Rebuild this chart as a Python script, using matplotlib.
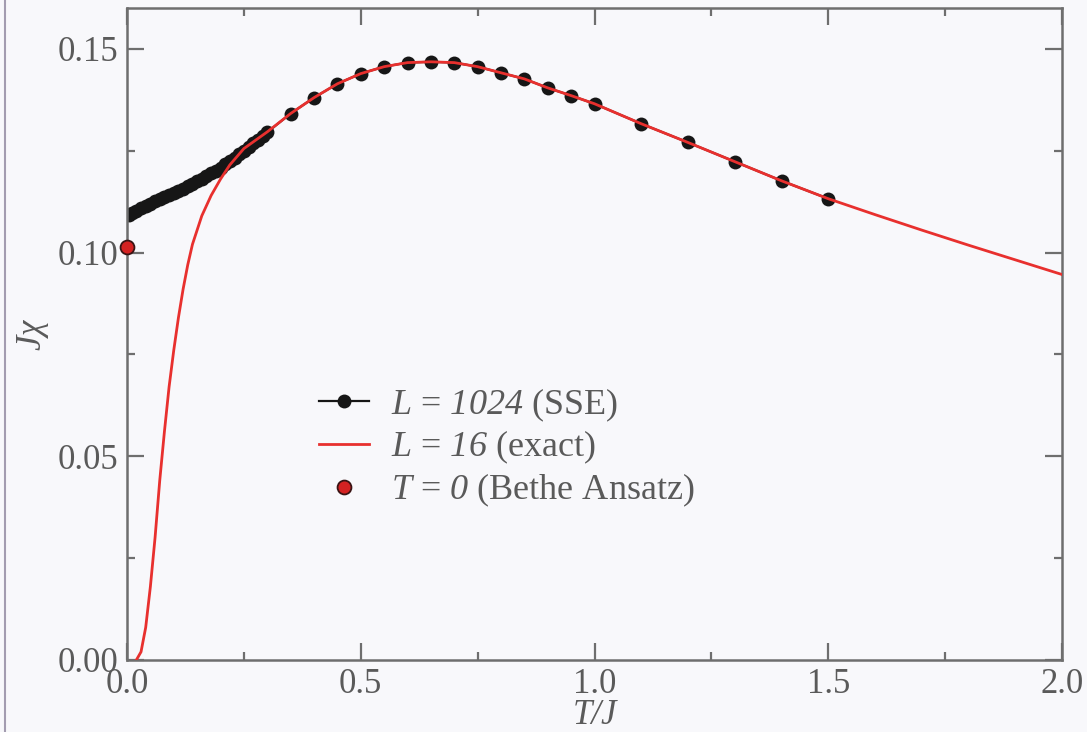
import matplotlib
matplotlib.use("Agg")
import matplotlib.pyplot as plt
from matplotlib.lines import Line2D
from matplotlib.ticker import MultipleLocator

# SSE data, L = 1024
sse_T = [0.005, 0.01, 0.02, 0.03, 0.04, 0.05, 0.06, 0.07, 0.08, 0.09,
         0.10, 0.11, 0.12, 0.13, 0.14, 0.15, 0.16, 0.17, 0.18, 0.19,
         0.20, 0.21, 0.22, 0.23, 0.24, 0.25, 0.26, 0.27, 0.28, 0.29,
         0.30, 0.35, 0.40, 0.45, 0.50, 0.55, 0.60, 0.65, 0.70, 0.75,
         0.80, 0.85, 0.90, 0.95, 1.00, 1.10, 1.20, 1.30, 1.40, 1.50]
sse_chi = [0.1092, 0.1096, 0.1103, 0.1109, 0.1115, 0.1120, 0.1126, 0.1131, 0.1136, 0.1141,
           0.1146, 0.1151, 0.1157, 0.1163, 0.1169, 0.1175, 0.1181, 0.1188, 0.1194, 0.1201,
           0.1208, 0.1216, 0.1224, 0.1232, 0.1241, 0.1250, 0.1259, 0.1268, 0.1277, 0.1286,
           0.1295, 0.1341, 0.1380, 0.1414, 0.1439, 0.1456, 0.1466, 0.1468, 0.1466, 0.1456,
           0.1441, 0.1426, 0.1404, 0.1385, 0.1365, 0.1316, 0.1270, 0.1223, 0.1176, 0.1132]

# Exact diagonalization, L = 16
ed_T = [0.02, 0.03, 0.04, 0.05, 0.06, 0.07, 0.08, 0.09, 0.10, 0.11,
        0.12, 0.13, 0.14, 0.16, 0.18, 0.20, 0.22, 0.25, 0.30, 0.35,
        0.40, 0.45, 0.50, 0.55, 0.60, 0.65, 0.70, 0.75, 0.80, 0.85,
        0.90, 0.95, 1.00, 1.10, 1.20, 1.30, 1.40, 1.50, 1.60, 1.70,
        1.80, 1.90, 2.00]
ed_chi = [0.0000, 0.0020, 0.0080, 0.0180, 0.0300, 0.0440, 0.0560, 0.0670, 0.0760, 0.0840,
          0.0910, 0.0970, 0.1020, 0.1090, 0.1140, 0.1180, 0.1215, 0.1255, 0.1296, 0.1341,
          0.1380, 0.1414, 0.1439, 0.1456, 0.1466, 0.1468, 0.1466, 0.1456, 0.1441, 0.1426,
          0.1404, 0.1385, 0.1365, 0.1316, 0.1270, 0.1223, 0.1176, 0.1132, 0.1093, 0.1055,
          0.1018, 0.0982, 0.0946]

# Bethe Ansatz ground state value
ba_T = [0.0]
ba_chi = [0.1013]

x_ticks = [0.0, 0.5, 1.0, 1.5, 2.0]
x_ticklabels = ["0.0", "0.5", "1.0", "1.5", "2.0"]
y_ticks = [0.00, 0.05, 0.10, 0.15]
y_ticklabels = ["0.00", "0.05", "0.10", "0.15"]

plt.rcParams["font.family"] = ["Liberation Serif", "DejaVu Serif"]
# math segments (symbols and numbers in labels) are set in italic serif
plt.rcParams["mathtext.fontset"] = "custom"
plt.rcParams["mathtext.rm"] = "Liberation Serif:italic"
plt.rcParams["mathtext.it"] = "Liberation Serif:italic"

bg = "#f8f8fb"
txt = "#5a5a5a"
spine_c = "#6e6e6e"
fs = 25

fig = plt.figure(figsize=(10.87, 7.32), dpi=100, facecolor=bg)
ax = fig.add_axes([127 / 1087, 72 / 732, 935 / 1087, 652 / 732], facecolor=bg)

ax.plot(sse_T, sse_chi, "-o", color="#161616", lw=1.6, markersize=10,
        markeredgewidth=0, zorder=2, label=r"$L$ = $1024$ (SSE)")
ax.plot(ed_T, ed_chi, "-", color="#e8302e", lw=2.0, zorder=3,
        label=r"$L$ = $16$ (exact)")
ax.plot(ba_T, ba_chi, "o", markerfacecolor="#d42222", markeredgecolor="#3a1414",
        markeredgewidth=1.3, markersize=10, linestyle="none", zorder=4,
        clip_on=False, label=r"$T$ = $0$ (Bethe Ansatz)")

ax.set_xlim(0, 2.0)
ax.set_ylim(0, 0.16)
ax.set_xticks(x_ticks)
ax.set_xticklabels(x_ticklabels)
ax.set_yticks(y_ticks)
ax.set_yticklabels(y_ticklabels)
ax.xaxis.set_minor_locator(MultipleLocator(0.25))
ax.yaxis.set_minor_locator(MultipleLocator(0.025))

ax.tick_params(which="both", direction="in", top=True, right=True,
               color=spine_c, width=1.6, labelcolor=txt, labelsize=fs)
ax.tick_params(which="major", length=12)
ax.tick_params(which="minor", length=6)
ax.tick_params(axis="x", which="major", pad=6)
ax.tick_params(axis="y", which="major", pad=6)
for s in ax.spines.values():
    s.set_color(spine_c)
    s.set_linewidth(1.8)

ax.set_xlabel("T/J", fontsize=fs, style="italic", color=txt, labelpad=-2)
ax.set_ylabel(r"$J\chi$", fontsize=fs, color=txt, labelpad=5)

leg = ax.legend(loc="upper left", bbox_to_anchor=(0.205, 0.42), frameon=False,
                fontsize=fs + 1, handlelength=1.4, handletextpad=0.6,
                labelspacing=0.15, borderpad=0, borderaxespad=0)
for t in leg.get_texts():
    t.set_color(txt)

fig.add_artist(Line2D([5 / 1087, 5 / 1087], [0, 1], transform=fig.transFigure,
                      color="#a39cb0", lw=1.5))

fig.savefig("out.png", dpi=100, facecolor=bg)
